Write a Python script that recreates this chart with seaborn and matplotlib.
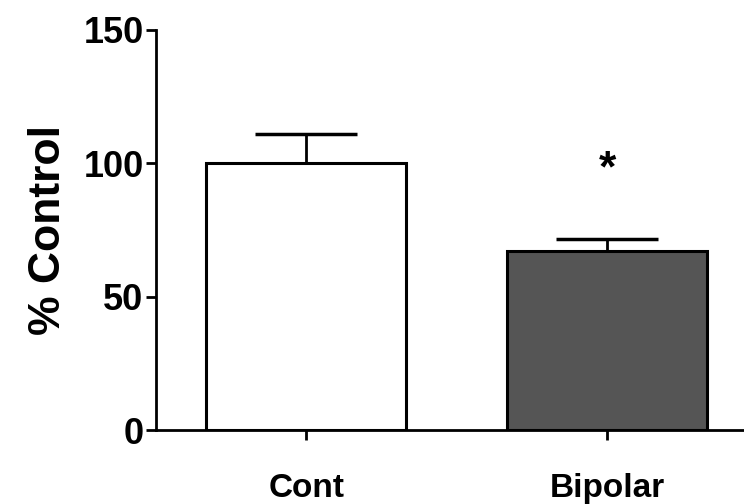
import matplotlib
matplotlib.use("Agg")
import matplotlib.pyplot as plt
import seaborn as sns
import pandas as pd

groups = ["Cont", "Bipolar"]
means = [100, 67]
sem_upper = [11, 4.5]
bar_colors = ["#ffffff", "#555555"]
yticks = [0, 50, 100, 150]
sig_marks = ["", "*"]

sns.set_theme(style="ticks")
plt.rcParams['font.family'] = ['Liberation Sans', 'DejaVu Sans']
plt.rcParams['font.weight'] = 'bold'
for k in ["text.color", "axes.labelcolor", "xtick.color", "ytick.color", "axes.edgecolor"]:
    plt.rcParams[k] = "black"

df = pd.DataFrame({"group": groups, "value": means})

fig = plt.figure(figsize=(7.44, 5.04), dpi=100)
ax = fig.add_axes([0.2097, 0.1468, 0.7903, 0.7937])

sns.barplot(data=df, x="group", y="value", hue="group", palette=bar_colors,
            edgecolor="black", linewidth=2.2, width=0.665, legend=False, ax=ax,
            errorbar=None, saturation=1)

eb = ax.errorbar(x=range(len(groups)), y=means, yerr=[[0] * len(groups), sem_upper],
                 fmt="none", ecolor="black", elinewidth=2, capsize=37, capthick=2.5, zorder=1)
# keep only the upper caps
caplines = eb[1]
if len(caplines) >= 2:
    caplines[0].set_visible(False)

for i, (m, e, s) in enumerate(zip(means, sem_upper, sig_marks)):
    if s:
        ax.text(i, 90, s, ha="center", va="bottom", fontsize=32, fontweight="bold")

ax.set_xlim(-0.5, 1.455)
ax.set_ylim(0, 150)
ax.set_yticks(yticks)
ax.set_yticklabels([str(t) for t in yticks], fontsize=26, fontweight="bold")
ax.set_xticks(range(len(groups)))
ax.set_xticklabels(groups, fontsize=24, fontweight="bold")
ax.set_xlabel("")
ax.set_ylabel("% Control", fontsize=32, fontweight="bold", labelpad=10)

ax.spines["top"].set_visible(False)
ax.spines["right"].set_visible(False)
ax.spines["left"].set_linewidth(2)
ax.spines["bottom"].set_linewidth(2)
ax.tick_params(axis="both", width=2, length=7, direction="out", color="black")
ax.tick_params(axis="x", pad=24)
ax.tick_params(axis="y", pad=2)

fig.savefig("out.png", dpi=100)
